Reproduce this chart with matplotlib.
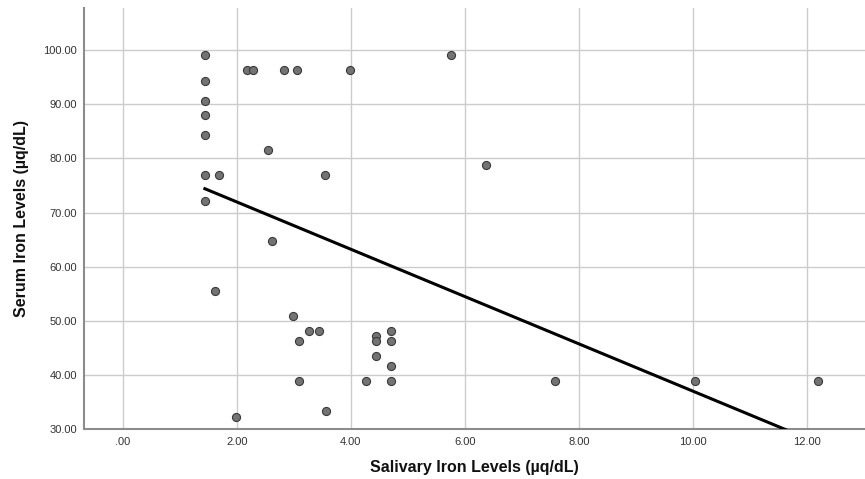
import matplotlib
matplotlib.use("Agg")
import matplotlib.pyplot as plt
import numpy as np

plt.rcParams['font.family'] = ['Liberation Sans', 'DejaVu Sans']

salivary = [1.44, 1.44, 1.44, 1.44, 1.44, 1.44, 1.68, 1.44,
            2.18, 2.28, 2.82, 3.05, 3.99, 5.76, 3.54, 6.38, 2.54, 2.61,
            1.61, 2.99, 3.09, 3.10, 1.98, 3.26, 3.44, 3.56, 4.26,
            4.44, 4.44, 4.44, 4.71, 4.71, 4.71, 4.71, 7.58, 10.04, 12.19]
serum = [99.2, 94.4, 90.7, 88.0, 84.3, 76.9, 76.9, 72.2,
         96.4, 96.4, 96.4, 96.4, 96.4, 99.2, 76.9, 78.7, 81.5, 64.8,
         55.5, 50.9, 46.2, 38.8, 32.3, 48.1, 48.1, 33.3, 38.8,
         47.2, 46.2, 43.5, 48.1, 46.2, 41.6, 38.8, 38.8, 38.8, 38.8]

fit_intercept = 80.7
fit_slope = -4.37

x_ticks = [0, 2, 4, 6, 8, 10, 12]
x_tick_labels = ['.00', '2.00', '4.00', '6.00', '8.00', '10.00', '12.00']
y_ticks = [30, 40, 50, 60, 70, 80, 90, 100]
y_tick_labels = ['30.00', '40.00', '50.00', '60.00', '70.00', '80.00', '90.00', '100.00']

fig = plt.figure(figsize=(8.65, 4.79), dpi=100)
ax = fig.add_axes([84/865, 1-429/479, 1-84/865, (429-8)/479])

ax.set_xlim(-0.68, 13.02)
ax.set_ylim(30, 107.8)

ax.set_xticks(x_ticks)
ax.set_xticklabels(x_tick_labels)
ax.set_yticks(y_ticks)
ax.set_yticklabels(y_tick_labels)
ax.tick_params(length=0, labelsize=8, labelcolor='#333333')
ax.tick_params(axis='x', pad=6)
ax.tick_params(axis='y', pad=5)

ax.grid(True, color='#cccccc', linewidth=1.0)
ax.set_axisbelow(True)

for s in ['top', 'right']:
    ax.spines[s].set_visible(False)
for s in ['left', 'bottom']:
    ax.spines[s].set_color('#8c8c8c')
    ax.spines[s].set_linewidth(1.5)

ax.scatter(salivary, serum, s=34, facecolor='#737373', edgecolor='#3a3a3a',
           linewidth=0.8, zorder=3)

xs = np.array([min(salivary), max(salivary)])
ax.plot(xs, fit_intercept + fit_slope * xs, color='black', linewidth=2.2,
        zorder=4, clip_on=True)

ax.set_xlabel('Salivary Iron Levels (µq/dL)', fontsize=11.5, fontweight='bold',
              labelpad=9, color='#111111')
ax.set_ylabel('Serum Iron Levels (µq/dL)', fontsize=11.5, fontweight='bold',
              labelpad=10, color='#111111')

fig.savefig('out.png', dpi=100)
